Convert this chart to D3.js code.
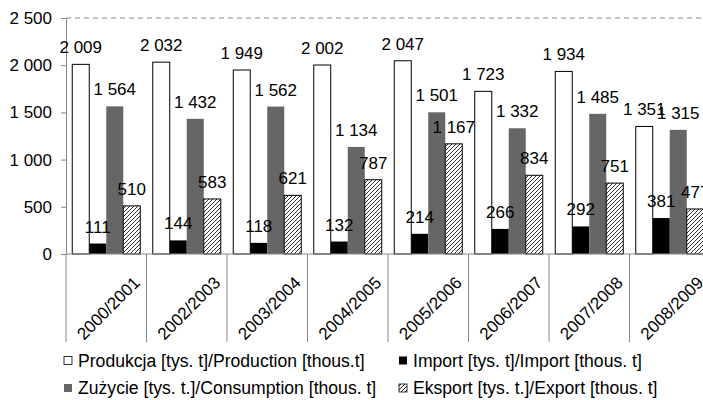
<!DOCTYPE html>
<html>
<head>
<meta charset="utf-8">
<script src="https://cdn.jsdelivr.net/npm/d3@7"></script>
<style>
	body { margin: 0; background: #fff; }
	svg { display: block; font-family: "Liberation Sans", Arial, sans-serif; }
</style>
</head>
<body>
<svg id="chart" width="703" height="400"></svg>
<script>
var categories = ["2000/2001", "2002/2003", "2003/2004", "2004/2005", "2005/2006", "2006/2007", "2007/2008", "2008/2009"];
var production = [2009, 2032, 1949, 2002, 2047, 1723, 1934, 1351];
var imports = [111, 144, 118, 132, 214, 266, 292, 381];
var consumption = [1564, 1432, 1562, 1134, 1501, 1332, 1485, 1315];
var exports = [510, 583, 621, 787, 1167, 834, 751, 477];
var yTicks = [0, 500, 1000, 1500, 2000, 2500];

var seriesNames = [
	"Produkcja [tys. t]/Production [thous.t]",
	"Import [tys. t]/Import [thous. t]",
	"Zużycie [tys. t.]/Consumption [thous. t]",
	"Eksport [tys. t.]/Export [thous. t]"
];

// order of bars inside a group
var series = [
	{name: seriesNames[0], values: production, fill: "#fff", stroke: "#000"},
	{name: seriesNames[1], values: imports, fill: "#000", stroke: "none"},
	{name: seriesNames[2], values: consumption, fill: "#666", stroke: "none"},
	{name: seriesNames[3], values: exports, fill: "url(#hatch)", stroke: "#000"}
];

var fmt = d3.formatLocale({decimal: ",", thousands: " ", grouping: [3], currency: ["", ""]}).format(",d");

var svg = d3.select("#chart");

var defs = svg.append("defs");
var pat = defs.append("pattern")
	.attr("id", "hatch")
	.attr("patternUnits", "userSpaceOnUse")
	.attr("width", 4)
	.attr("height", 4);
pat.append("rect").attr("width", 4).attr("height", 4).attr("fill", "#fff");
pat.append("path")
	.attr("d", "M-1,1 l2,-2 M0,4 l4,-4 M3,5 l2,-2")
	.attr("stroke", "#000")
	.attr("stroke-width", 0.8);

var x = d3.scaleBand().domain(categories).range([66, 710]);
var x1 = d3.scaleBand().domain(d3.range(series.length)).range([6.25, x.bandwidth() - 6.25]);
var y = d3.scaleLinear().domain([0, 2500]).range([254, 18]);

// dashed top border
svg.append("line")
	.attr("x1", 66).attr("x2", 710)
	.attr("y1", y(2500)).attr("y2", y(2500))
	.attr("stroke", "#888")
	.attr("stroke-dasharray", "5,4");

// bars
series.forEach(function(s, si){
	svg.append("g").selectAll("rect")
		.data(s.values)
		.enter().append("rect")
		.attr("x", function(d, i){ return x(categories[i]) + x1(si); })
		.attr("y", function(d){ return y(d); })
		.attr("width", x1.bandwidth())
		.attr("height", function(d){ return y(0) - y(d); })
		.attr("fill", s.fill)
		.attr("stroke", s.stroke)
		.attr("stroke-width", 1);
});

// y axis
var yAxis = svg.append("g")
	.attr("transform", "translate(66,0)")
	.call(d3.axisLeft(y).tickValues(yTicks).tickSize(5).tickPadding(9).tickFormat(fmt));
yAxis.select(".domain").attr("stroke", "#888");
yAxis.selectAll(".tick line").attr("stroke", "#888");
yAxis.selectAll(".tick text")
	.attr("fill", "#000")
	.style("font-size", "17px")
	.style("font-family", "Liberation Sans, Arial, sans-serif");

// x axis line and category dividers
svg.append("line")
	.attr("x1", 66).attr("x2", 710)
	.attr("y1", y(0)).attr("y2", y(0))
	.attr("stroke", "#888");
var bounds = categories.map(function(c){ return x(c); }).concat([x.range()[1]]);
svg.append("g").selectAll("line")
	.data(bounds)
	.enter().append("line")
	.attr("x1", function(d){ return d; })
	.attr("x2", function(d){ return d; })
	.attr("y1", y(0)).attr("y2", 342)
	.attr("stroke", "#888");

// category labels
svg.append("g").selectAll("text")
	.data(categories)
	.enter().append("text")
	.attr("transform", function(d){ return "translate(" + (x(d) + x.bandwidth() / 2 + 2) + ",308) rotate(-45)"; })
	.attr("text-anchor", "middle")
	.attr("dy", "0.35em")
	.style("font-size", "17px")
	.text(function(d){ return d; });

// value labels
series.forEach(function(s, si){
	svg.append("g").selectAll("text")
		.data(s.values)
		.enter().append("text")
		.attr("x", function(d, i){ return x(categories[i]) + x1(si) + x1.bandwidth() / 2; })
		.attr("y", function(d){ return y(d) - 11; })
		.attr("text-anchor", "middle")
		.style("font-size", "17px")
		.text(function(d){ return fmt(d); });
});

// legend
var legendPos = [[64, 366.5], [399, 366.5], [64, 394], [399, 394]];
var legend = svg.append("g").selectAll("g")
	.data(series)
	.enter().append("g")
	.attr("transform", function(d, i){ return "translate(" + legendPos[i][0] + "," + legendPos[i][1] + ")"; });
legend.append("rect")
	.attr("x", 0).attr("y", -10)
	.attr("width", 8).attr("height", 8)
	.attr("fill", function(d){ return d.fill; })
	.attr("stroke", function(d){ return d.stroke == "none" ? "none" : "#000"; })
	.attr("stroke-width", 0.8);
legend.append("text")
	.attr("x", 14)
	.style("font-size", "17.6px")
	.text(function(d){ return d.name; });
</script>
</body>
</html>
